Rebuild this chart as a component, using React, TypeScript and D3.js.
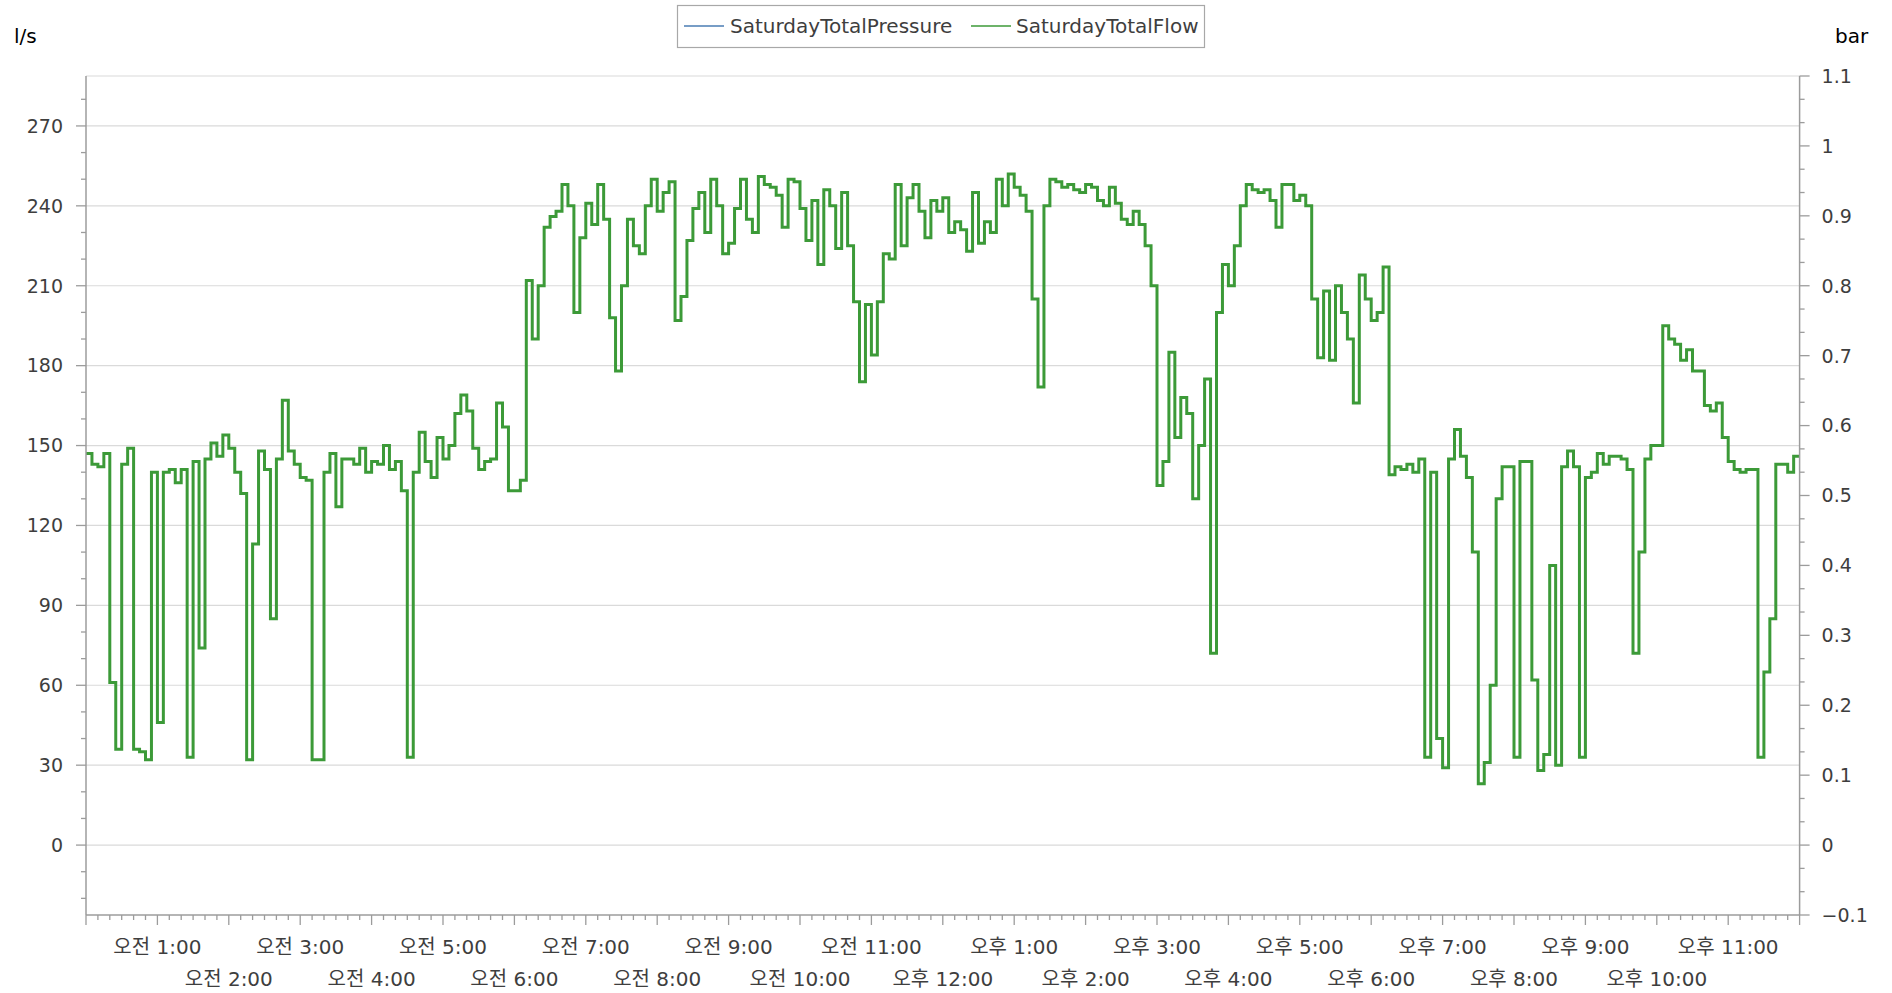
import * as d3 from "d3";

// SaturdayTotalFlow, one reading every 5 minutes (l/s), four hours per row group
const flow00to03 = [
  147, 143, 142, 147, 61, 36, 143, 149, 36, 35, 32, 140,
  46, 140, 141, 136, 141, 33, 144, 74, 145, 151, 146, 154,
  149, 140, 132, 32, 113, 148, 141, 85, 145, 167, 148, 143,
  138, 137, 32, 32, 140, 147, 127, 145, 145, 143, 149, 140,
];
const flow04to07 = [
  144, 143, 150, 141, 144, 133, 33, 140, 155, 144, 138, 153,
  145, 150, 162, 169, 163, 149, 141, 144, 145, 166, 157, 133,
  133, 137, 212, 190, 210, 232, 236, 238, 248, 240, 200, 228,
  241, 233, 248, 235, 198, 178, 210, 235, 225, 222, 240, 250,
];
const flow08to11 = [
  238, 245, 249, 197, 206, 227, 239, 245, 230, 250, 240, 222,
  226, 239, 250, 235, 230, 251, 248, 247, 244, 232, 250, 249,
  239, 227, 242, 218, 246, 240, 224, 245, 225, 204, 174, 203,
  184, 204, 222, 220, 248, 225, 243, 248, 238, 228, 242, 238,
];
const flow12to15 = [
  243, 230, 234, 231, 223, 245, 226, 234, 230, 250, 240, 252,
  247, 244, 238, 205, 172, 240, 250, 249, 247, 248, 246, 245,
  248, 247, 242, 240, 247, 241, 235, 233, 238, 233, 225, 210,
  135, 144, 185, 153, 168, 162, 130, 150, 175, 72, 200, 218,
];
const flow16to19 = [
  210, 225, 240, 248, 246, 245, 246, 242, 232, 248, 248, 242,
  244, 240, 205, 183, 208, 182, 210, 200, 190, 166, 214, 205,
  197, 200, 217, 139, 142, 141, 143, 140, 145, 33, 140, 40,
  29, 145, 156, 146, 138, 110, 23, 31, 60, 130, 142, 142,
];
const flow20to23 = [
  33, 144, 144, 62, 28, 34, 105, 30, 142, 148, 142, 33,
  138, 140, 147, 143, 146, 146, 145, 141, 72, 110, 145, 150,
  150, 195, 190, 188, 182, 186, 178, 178, 165, 163, 166, 153,
  144, 141, 140, 141, 141, 33, 65, 85, 143, 143, 140, 146,
];

const flowTicks = [0, 30, 60, 90, 120, 150, 180, 210, 240, 270];
const barTicks = [-0.1, 0, 0.1, 0.2, 0.3, 0.4, 0.5, 0.6, 0.7, 0.8, 0.9, 1, 1.1];
const hourLabels = [
  "오전 1:00", "오전 2:00", "오전 3:00", "오전 4:00", "오전 5:00", "오전 6:00",
  "오전 7:00", "오전 8:00", "오전 9:00", "오전 10:00", "오전 11:00", "오후 12:00",
  "오후 1:00", "오후 2:00", "오후 3:00", "오후 4:00", "오후 5:00", "오후 6:00",
  "오후 7:00", "오후 8:00", "오후 9:00", "오후 10:00", "오후 11:00",
];
const seriesNames = ["SaturdayTotalPressure", "SaturdayTotalFlow"];

const STEP = 5;
const FONT = "'DejaVu Sans', 'Noto Sans CJK KR', sans-serif";
const GREEN = "#3c9a38";
const BLUE = "#4a7db3";
const AXIS = "#9c9c9c";
const GRID = "#dadada";
const TEXT = "#3e3e3e";

export default function App() {
  const width = 1892;
  const height = 993;
  const left = 86;
  const right = 1799.6;
  const top = 76;
  const bottom = 915;

  const flow = [...flow00to03, ...flow04to07, ...flow08to11, ...flow12to15, ...flow16to19, ...flow20to23];
  const points: [number, number][] = flow.map((v, i) => [i * STEP, v]);
  points.push([24 * 60, flow[flow.length - 1]]);

  const x = d3.scaleLinear().domain([0, 24 * 60]).range([left, right]);
  const yFlow = d3.scaleLinear().domain([-26.25, 288.75]).range([bottom, top]);
  const yBar = d3.scaleLinear().domain([-0.1, 1.1]).range([bottom, top]);

  const line = d3
    .line<[number, number]>()
    .x((d) => x(d[0]))
    .y((d) => yFlow(d[1]))
    .curve(d3.curveStepAfter);

  const flowMinor = d3.range(-20, 289, 10).filter((v) => v % 30 !== 0);
  const barMinor = d3.range(-3, 34).filter((k) => k % 3 !== 0).map((k) => k / 30);
  const timeMinor = d3.range(0, 24 * 60 + 1, 10).filter((m) => m % 60 !== 0);
  const timeMajor = d3.range(0, 25).map((h) => h * 60);

  return (
    <svg
      width={width}
      height={height}
      style={{ position: "absolute", left: 0, top: 0, background: "#fff" }}
      fontFamily={FONT}
    >
      {/* grid */}
      <line x1={left} x2={right} y1={top} y2={top} stroke={GRID} strokeWidth={1.2} />
      {flowTicks.map((t) => (
        <line key={t} x1={left} x2={right} y1={yFlow(t)} y2={yFlow(t)} stroke={GRID} strokeWidth={1.2} />
      ))}

      {/* flow series */}
      <path d={line(points) ?? ""} fill="none" stroke={GREEN} strokeWidth={3} strokeLinejoin="miter" />

      {/* left axis */}
      <line x1={left} x2={left} y1={top} y2={bottom} stroke={AXIS} strokeWidth={1.5} />
      {flowTicks.map((t) => (
        <g key={t}>
          <line x1={left - 10} x2={left} y1={yFlow(t)} y2={yFlow(t)} stroke={AXIS} strokeWidth={1.3} />
          <text x={left - 23} y={yFlow(t)} dy="0.36em" textAnchor="end" fontSize={19} fill={TEXT}>
            {t}
          </text>
        </g>
      ))}
      {flowMinor.map((t) => (
        <line key={t} x1={left - 5} x2={left} y1={yFlow(t)} y2={yFlow(t)} stroke={AXIS} strokeWidth={1.3} />
      ))}
      <text x={14} y={36} dy="0.36em" fontSize={20} fill="#000">
        l/s
      </text>

      {/* right axis */}
      <line x1={right} x2={right} y1={top} y2={bottom} stroke={AXIS} strokeWidth={1.5} />
      {barTicks.map((t) => (
        <g key={t}>
          <line x1={right} x2={right + 10} y1={yBar(t)} y2={yBar(t)} stroke={AXIS} strokeWidth={1.3} />
          <text x={right + 22} y={yBar(t)} dy="0.36em" fontSize={19} fill={TEXT}>
            {d3.format("~g")(+t.toFixed(1))}
          </text>
        </g>
      ))}
      {barMinor.map((t, i) => (
        <line key={i} x1={right} x2={right + 5} y1={yBar(t)} y2={yBar(t)} stroke={AXIS} strokeWidth={1.3} />
      ))}
      <text x={1835} y={36} dy="0.36em" fontSize={20} fill="#000">
        bar
      </text>

      {/* bottom axis */}
      <line x1={left} x2={right} y1={bottom} y2={bottom} stroke={AXIS} strokeWidth={1.5} />
      {timeMajor.map((m) => (
        <line key={m} x1={x(m)} x2={x(m)} y1={bottom} y2={bottom + 10} stroke={AXIS} strokeWidth={1.3} />
      ))}
      {timeMinor.map((m) => (
        <line key={m} x1={x(m)} x2={x(m)} y1={bottom} y2={bottom + 5} stroke={AXIS} strokeWidth={1.3} />
      ))}
      {hourLabels.map((label, i) => {
        const hour = i + 1;
        const row = hour % 2 === 1 ? 0 : 1;
        return (
          <text
            key={label}
            x={x(hour * 60)}
            y={947 + row * 32}
            dy="0.36em"
            textAnchor="middle"
            fontSize={20}
            fill={TEXT}
          >
            {label}
          </text>
        );
      })}

      {/* legend */}
      <rect x={677.5} y={5.5} width={527} height={42} fill="#fff" stroke="#a8a8a8" strokeWidth={1.2} />
      <line x1={684} x2={724} y1={26} y2={26} stroke={BLUE} strokeWidth={1.6} />
      <text x={730} y={26} dy="0.36em" fontSize={20} fill={TEXT}>
        {seriesNames[0]}
      </text>
      <line x1={971} x2={1011} y1={26} y2={26} stroke={GREEN} strokeWidth={1.6} />
      <text x={1016} y={26} dy="0.36em" fontSize={20} fill={TEXT}>
        {seriesNames[1]}
      </text>
    </svg>
  );
}
